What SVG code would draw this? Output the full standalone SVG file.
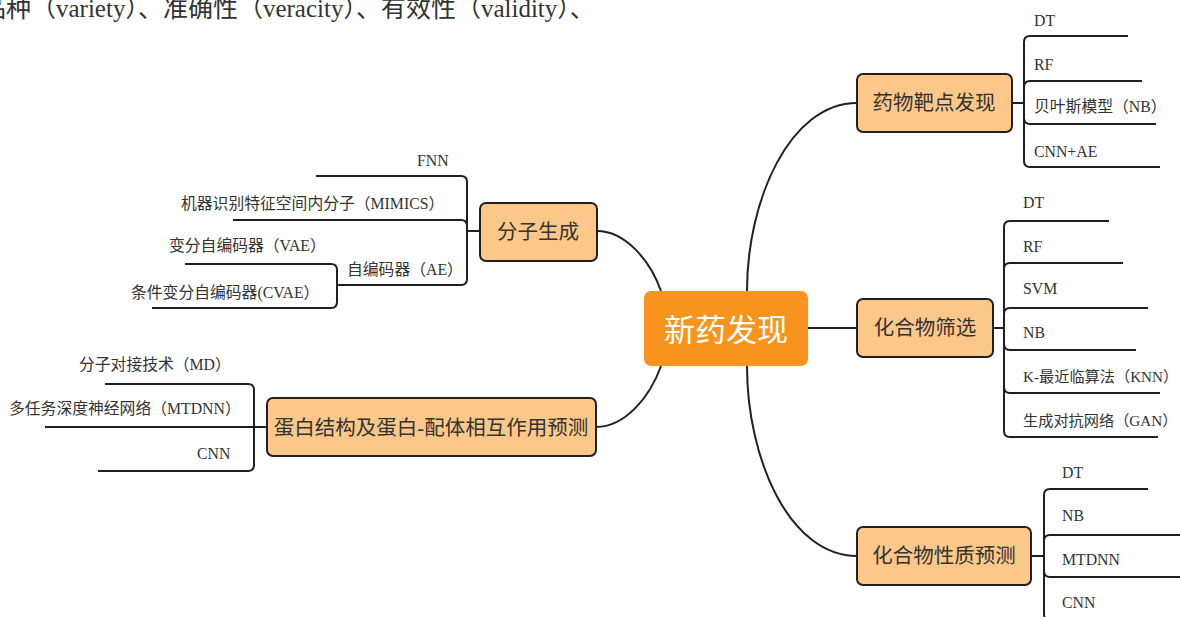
<svg xmlns="http://www.w3.org/2000/svg" width="1180" height="617" viewBox="0 0 1180 617">
<style>
.bg{fill:#ffffff}
.conn{fill:none;stroke:#231f20;stroke-width:2}
.node{fill:#fcc88a;stroke:#231f20;stroke-width:2}
.root{fill:#f7941e}
.nt{font-family:"Liberation Serif","Noto Sans CJK SC",serif;font-size:20.5px;fill:#333333;text-anchor:middle}
.rt{font-family:"Noto Sans CJK SC","Liberation Sans",sans-serif;font-size:31px;fill:#ffffff;text-anchor:middle}
.lb{font-family:"Liberation Serif","Noto Sans CJK SC",serif;font-size:15.8px;fill:#333333}
.lbs{font-size:15.2px}
.top{font-family:"Liberation Serif","Noto Sans CJK SC",serif;font-size:25px;fill:#333333}
</style>
<rect class="bg" x="0" y="0" width="1180" height="617"/>
<text class="top" x="-19" y="17">品种（variety）、准确性（veracity）、有效性（validity）、</text>

<g id="connectors">
  <path class="conn" d="M661,291 C650,260 625,231 597,231"/>
  <path class="conn" d="M661,366 C650,397 625,427 596,427"/>
  <path class="conn" d="M747,291 C747,200 790,103 857,103"/>
  <path class="conn" d="M807,328 H857"/>
  <path class="conn" d="M747,366 C747,460 790,556 857,556"/>
  <path class="conn" d="M480,231 H467 V182 Q467,176 461,176 H316"/>
  <path class="conn" d="M480,231 H467 V226 Q467,220 461,220 H233"/>
  <path class="conn" d="M480,231 H467 V279 Q467,285 461,285 H337"/>
  <path class="conn" d="M337,285 V270 Q337,264 331,264 H185"/>
  <path class="conn" d="M337,285 V302 Q337,308 331,308 H152"/>
  <path class="conn" d="M267,427 H254 V390 Q254,384 248,384 H105"/>
  <path class="conn" d="M267,427 H45"/>
  <path class="conn" d="M267,427 H254 V465 Q254,471 248,471 H98"/>
  <path class="conn" d="M1012,103 H1024 V42 Q1024,36 1030,36 H1128"/>
  <path class="conn" d="M1012,103 H1024 V87 Q1024,81 1030,81 H1142"/>
  <path class="conn" d="M1012,103 H1024 V118 Q1024,124 1030,124 H1156"/>
  <path class="conn" d="M1012,103 H1024 V161 Q1024,167 1030,167 H1160"/>
  <path class="conn" d="M993,328 H1004 V227 Q1004,221 1010,221 H1109"/>
  <path class="conn" d="M993,328 H1004 V269 Q1004,263 1010,263 H1123"/>
  <path class="conn" d="M993,328 H1004 V314 Q1004,308 1010,308 H1148"/>
  <path class="conn" d="M993,328 H1004 V344 Q1004,350 1010,350 H1136"/>
  <path class="conn" d="M993,328 H1004 V387 Q1004,393 1010,393 H1160"/>
  <path class="conn" d="M993,328 H1004 V431 Q1004,437 1010,437 H1158"/>
  <path class="conn" d="M1031,556 H1044 V495 Q1044,489 1050,489 H1148"/>
  <path class="conn" d="M1031,556 H1044 V541 Q1044,535 1050,535 H1182"/>
  <path class="conn" d="M1031,556 H1044 V571 Q1044,577 1050,577 H1182"/>
  <path class="conn" d="M1031,556 H1044 V614 Q1044,620 1050,620 H1182"/>
</g>

<g id="root">
  <rect class="root" x="644" y="291" width="164" height="75" rx="7"/>
  <text class="rt" x="726" y="341">新药发现</text>
</g>

<g id="n-fenzishengcheng">
  <rect class="node" x="480" y="203" width="117" height="58" rx="6"/>
  <text class="nt" x="538" y="239">分子生成</text>
</g>
<g id="n-fnn"><text class="lb" x="417" y="166">FNN</text></g>
<g id="n-mimics"><text class="lb" x="181" y="209">机器识别特征空间内分子（MIMICS）</text></g>
<g id="n-ae"><text class="lb" x="347" y="275">自编码器（AE）</text></g>
<g id="n-vae"><text class="lb" x="169" y="251">变分自编码器（VAE）</text></g>
<g id="n-cvae"><text class="lb" x="131" y="298">条件变分自编码器(CVAE）</text></g>

<g id="n-danbai">
  <rect class="node" x="267" y="398" width="329" height="58" rx="6"/>
  <text class="nt" x="431" y="435">蛋白结构及蛋白-配体相互作用预测</text>
</g>
<g id="n-md"><text class="lb" x="79" y="370">分子对接技术（MD）</text></g>
<g id="n-mtdnn-l"><text class="lb" x="9" y="414">多任务深度神经网络（MTDNN）</text></g>
<g id="n-cnn-l"><text class="lb" x="197" y="459">CNN</text></g>

<g id="n-baidian">
  <rect class="node" x="857" y="74" width="155" height="58" rx="6"/>
  <text class="nt" x="934" y="110">药物靶点发现</text>
</g>
<g id="n-dt1"><text class="lb" x="1034" y="26">DT</text></g>
<g id="n-rf1"><text class="lb" x="1034" y="70">RF</text></g>
<g id="n-nb1"><text class="lb" x="1034" y="112">贝叶斯模型（NB）</text></g>
<g id="n-cnnae"><text class="lb" x="1034" y="157">CNN+AE</text></g>

<g id="n-shaixuan">
  <rect class="node" x="857" y="299" width="136" height="58" rx="6"/>
  <text class="nt" x="925" y="335">化合物筛选</text>
</g>
<g id="n-dt2"><text class="lb" x="1023" y="208">DT</text></g>
<g id="n-rf2"><text class="lb" x="1023" y="252">RF</text></g>
<g id="n-svm"><text class="lb" x="1023" y="294">SVM</text></g>
<g id="n-nb2"><text class="lb" x="1023" y="338">NB</text></g>
<g id="n-knn"><text class="lb lbs" x="1023" y="382">K-最近临算法（KNN）</text></g>
<g id="n-gan"><text class="lb lbs" x="1023" y="426">生成对抗网络（GAN）</text></g>

<g id="n-xingzhi">
  <rect class="node" x="857" y="527" width="174" height="58" rx="6"/>
  <text class="nt" x="944" y="563">化合物性质预测</text>
</g>
<g id="n-dt3"><text class="lb" x="1062" y="478">DT</text></g>
<g id="n-nb3"><text class="lb" x="1062" y="521">NB</text></g>
<g id="n-mtdnn-r"><text class="lb" x="1062" y="565">MTDNN</text></g>
<g id="n-cnn-r"><text class="lb" x="1062" y="608">CNN</text></g>
</svg>
